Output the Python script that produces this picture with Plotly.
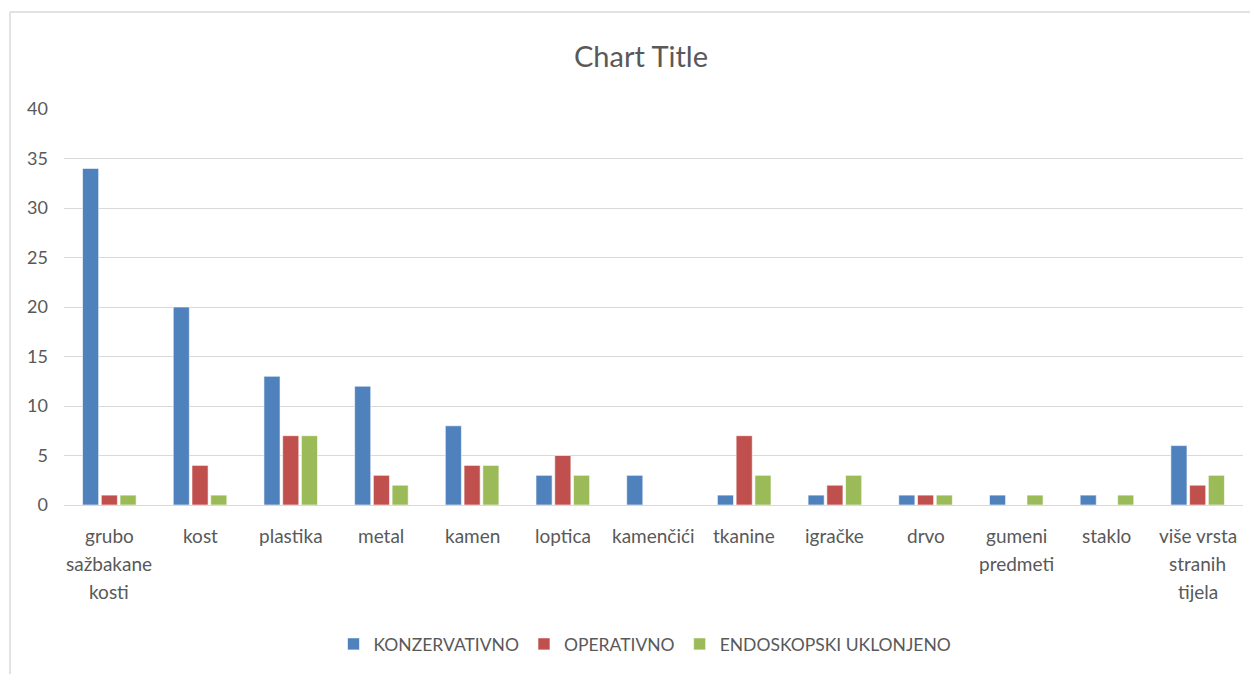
import plotly.graph_objects as go

categories = ["grubo<br>sažbakane<br>kosti", "kost", "plastika", "metal", "kamen", "loptica",
              "kamenčići", "tkanine", "igračke", "drvo", "gumeni<br>predmeti", "staklo",
              "više vrsta<br>stranih<br>tijela"]
konzervativno = [34, 20, 13, 12, 8, 3, 3, 1, 1, 1, 1, 1, 6]
operativno = [1, 4, 7, 3, 4, 5, 0, 7, 2, 1, 0, 0, 2]
endoskopski = [1, 1, 7, 2, 4, 3, 0, 3, 3, 1, 1, 1, 3]
series_names = ["KONZERVATIVNO", "OPERATIVNO", "ENDOSKOPSKI UKLONJENO"]
colors = ["#4f81bd", "#c0504d", "#9bbb59"]
y_ticks = [0, 5, 10, 15, 20, 25, 30, 35, 40]

OFF = 8  # page body margin
PW, PH = 1258, 674
W, H = PW - OFF, PH - OFF
# page-pixel plot area
pl, pr, pt, pb = 64, 1243, 109, 505
ml, mt = pl - OFF, pt - OFF
mr, mb = W - (pr - OFF), H - (pb - OFF)
pw, ph = W - ml - mr, H - mt - mb

def px_x(p):
    return (p - pl) / pw

def px_y(p):
    return (pb - p) / ph

fig = go.Figure()
for name, vals, c in zip(series_names, [konzervativno, operativno, endoskopski], colors):
    fig.add_trace(go.Bar(x=categories, y=vals, name=name,
                         marker=dict(color=c, line=dict(color="white", width=0.6))))

font_family = "Lato, Open Sans, sans-serif"

# category labels as annotations (to get Excel-like line spacing)
annotations = []
for cat in categories:
    for i, line in enumerate(cat.split("<br>")):
        annotations.append(dict(x=cat, xref="x", y=px_y(535 + 28 * i), yref="paper",
                                text=line, showarrow=False, xanchor="center", yanchor="middle",
                                font=dict(family=font_family, size=19, color="#595959")))

fig.update_layout(
    width=W, height=H,
    margin=dict(l=ml, r=mr, t=mt, b=mb, autoexpand=False),
    paper_bgcolor="white", plot_bgcolor="white",
    barmode="group", bargap=0.38, bargroupgap=0.14,
    title=dict(text="Chart Title", x=(641 - OFF) / W, xanchor="center",
               y=1 - (57 - OFF) / H, yanchor="middle",
               font=dict(family=font_family, size=29, color="#595959")),
    font=dict(family=font_family, size=19, color="#595959"),
    legend=dict(orientation="h", x=px_x(645), xanchor="center", y=px_y(644), yanchor="middle",
                font=dict(size=17.5, color="#595959"), itemwidth=30, traceorder="normal"),
    showlegend=True,
    xaxis=dict(showgrid=False, showline=False, ticks="", showticklabels=False),
    yaxis=dict(range=[0, 40], tickvals=y_ticks, showgrid=True, gridcolor="#d9d9d9", gridwidth=1,
               zeroline=True, zerolinecolor="#d9d9d9", zerolinewidth=1, showline=False,
               ticks="", ticklabelstandoff=15, tickfont=dict(size=18, color="#595959")),
    annotations=annotations,
    shapes=[
        dict(type="line", xref="paper", yref="paper", x0=px_x(10), x1=px_x(PW), y0=px_y(12), y1=px_y(12),
             line=dict(color="#d9d9d9", width=1.5)),
        dict(type="line", xref="paper", yref="paper", x0=px_x(10), x1=px_x(10), y0=px_y(12), y1=px_y(PH),
             line=dict(color="#d9d9d9", width=1.5)),
    ],
)

fig.write_html("out.html")
